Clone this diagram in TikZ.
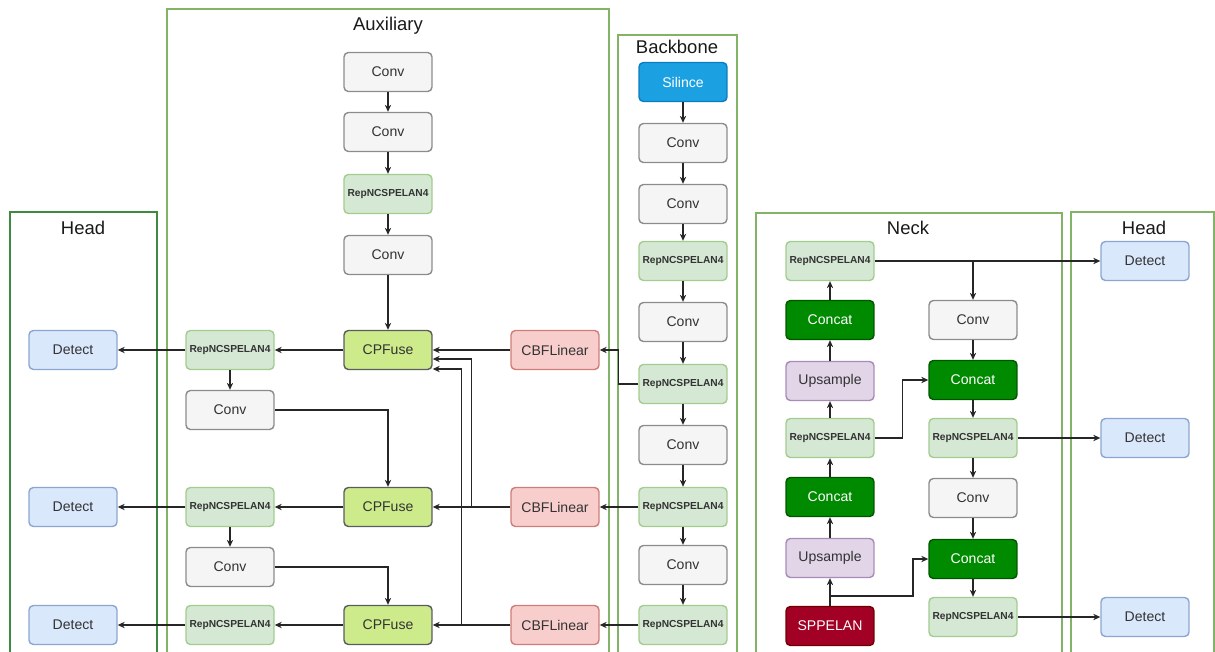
\documentclass[tikz,border=0pt]{standalone}
\usepackage{fontspec}
\setmainfont{Liberation Sans}
\usepackage{tikz}
\usetikzlibrary{arrows.meta,shapes}
\definecolor{convfill}{HTML}{F5F5F5}
\definecolor{convline}{HTML}{8C8C8C}
\definecolor{convtext}{HTML}{333333}
\definecolor{repfill}{HTML}{D5E8D4}
\definecolor{repline}{HTML}{A3CC8F}
\definecolor{cpffill}{HTML}{CDEB8B}
\definecolor{cpfline}{HTML}{5A5C5E}
\definecolor{cbffill}{HTML}{F8CECC}
\definecolor{cbfline}{HTML}{D07C78}
\definecolor{detfill}{HTML}{DAE8FC}
\definecolor{detline}{HTML}{8BA6D0}
\definecolor{silfill}{HTML}{1BA1E2}
\definecolor{silline}{HTML}{0A7CC0}
\definecolor{catfill}{HTML}{008A00}
\definecolor{catline}{HTML}{005700}
\definecolor{upfill}{HTML}{E1D5E7}
\definecolor{upline}{HTML}{A98BBA}
\definecolor{sppfill}{HTML}{A20025}
\definecolor{sppline}{HTML}{6F0000}
\definecolor{framegreen}{HTML}{82B366}
\definecolor{framedark}{HTML}{3E8A3E}
\newcommand{\blockfont}{\fontsize{8}{9}\selectfont}
\newcommand{\repfont}{\fontsize{5.8}{7}\selectfont\bfseries}
\newcommand{\titlefont}{\fontsize{10.5}{12}\selectfont}
\tikzstyle{block}=[rectangle,rounded corners=2.5pt,minimum width=1.76cm,minimum height=0.78cm,inner sep=0pt,line width=0.8pt,font=\blockfont]
\tikzstyle{conv}=[block,fill=convfill,draw=convline,text=convtext]
\tikzstyle{rep}=[block,fill=repfill,draw=repline,font=\repfont,text=black!80]
\tikzstyle{cpfuse}=[block,fill=cpffill,draw=cpfline,text=black!80]
\tikzstyle{cbf}=[block,fill=cbffill,draw=cbfline,text=black!80]
\tikzstyle{detect}=[block,fill=detfill,draw=detline,text=black!80]
\tikzstyle{silence}=[block,fill=silfill,draw=silline,text=white]
\tikzstyle{concat}=[block,fill=catfill,draw=catline,text=white]
\tikzstyle{upsample}=[block,fill=upfill,draw=upline,text=black!80]
\tikzstyle{spp}=[block,fill=sppfill,draw=sppline,text=white]
\tikzstyle{frame}=[draw=framegreen,line width=0.9pt]
\tikzstyle{title}=[font=\titlefont,text=black!90]
\tikzstyle{arrow}=[draw,black!85,line width=0.6pt,-{Stealth[length=4pt,width=3.6pt]}]

\begin{document}
\begin{tikzpicture}[x=0.02cm,y=-0.02cm]
    \useasboundingbox (0,0) rectangle (1215,652);
    % frames
    \draw[frame,draw=framedark] (10,660) |- (157,212) -- (157,660);
    \draw[frame] (167,660) |- (609,9) -- (609,660);
    \draw[frame] (618,660) |- (737,35) -- (737,660);
    \draw[frame] (756,660) |- (1062,213) -- (1062,660);
    \draw[frame] (1071,660) |- (1214,212) -- (1214,660);
    \node[title] (headl) at (83,228) {Head};
    \node[title] (auxt) at (388,26) {Auxiliary};
    \node[title] (bbt) at (677,47) {Backbone};
    \node[title] (neckt) at (908,228) {Neck};
    \node[title] (headr) at (1144,228) {Head};
    % blocks
    \foreach \pos/\name in {{(388,72)/aconv1}, {(388,132)/aconv2}, {(388,255)/aconv3}, {(230,410)/aconv4}, {(230,567)/aconv5},
        {(683,143)/bconv1}, {(683,204)/bconv2}, {(683,322)/bconv3}, {(683,445)/bconv4}, {(683,565)/bconv5},
        {(973,320)/nconv1}, {(973,498)/nconv2}}
        \node[conv] (\name) at \pos {Conv};
    \foreach \pos/\name in {{(388,194)/arep}, {(230,350)/arep1}, {(230,507)/arep2}, {(230,625)/arep3},
        {(683,261)/brep1}, {(683,384)/brep2}, {(683,507)/brep3}, {(683,625)/brep4},
        {(830,261)/nrep1}, {(830,438)/nrep2}, {(973,438)/nrep3}, {(973,617)/nrep4}}
        \node[rep] (\name) at \pos {RepNCSPELAN4};
    \foreach \pos/\name in {{(388,350)/cpf1}, {(388,507)/cpf2}, {(388,625)/cpf3}}
        \node[cpfuse] (\name) at \pos {CPFuse};
    \foreach \pos/\name in {{(555,350)/cbf1}, {(555,507)/cbf2}, {(555,625)/cbf3}}
        \node[cbf] (\name) at \pos {CBFLinear};
    \foreach \pos/\name in {{(73,350)/hdet1}, {(73,507)/hdet2}, {(73,625)/hdet3},
        {(1145,261)/ndet1}, {(1145,438)/ndet2}, {(1145,617)/ndet3}}
        \node[detect] (\name) at \pos {Detect};
    \foreach \pos/\name in {{(830,320)/ncat1}, {(830,497)/ncat2}, {(973,380)/ncat3}, {(973,559)/ncat4}}
        \node[concat] (\name) at \pos {Concat};
    \foreach \pos/\name in {{(830,381)/nup1}, {(830,558)/nup2}}
        \node[upsample] (\name) at \pos {Upsample};
    \node[silence] (bsil) at (683,82) {Silince};
    \node[spp] (nspp) at (830,626) {SPPELAN};
    % straight links
    \foreach \source/\dest in {aconv1/aconv2, aconv2/arep, arep/aconv3, aconv3/cpf1, arep1/aconv4, arep2/aconv5,
        cpf1/arep1, cpf2/arep2, cpf3/arep3, arep1/hdet1, arep2/hdet2, arep3/hdet3,
        cbf1/cpf1, cbf2/cpf2, cbf3/cpf3, brep3/cbf2, brep4/cbf3,
        bsil/bconv1, bconv1/bconv2, bconv2/brep1, brep1/bconv3, bconv3/brep2, brep2/bconv4, bconv4/brep3, brep3/bconv5, bconv5/brep4,
        nspp/nup2, nup2/ncat2, ncat2/nrep2, nrep2/nup1, nup1/ncat1, ncat1/nrep1,
        nconv1/ncat3, ncat3/nrep3, nrep3/nconv2, nconv2/ncat4, ncat4/nrep4,
        nrep1/ndet1, nrep3/ndet2, nrep4/ndet3}
        \path[arrow] (\source) -- (\dest);
    % elbow links
    \path[arrow] (aconv4) -| (cpf2);
    \path[arrow] (aconv5) -| (cpf3);
    \path[arrow] (cbf2.west) -- ++(-39,0) |- ([yshift=-0.18cm]cpf1.east);
    \path[arrow] (cbf3.west) -- ++(-49,0) |- ([yshift=-0.38cm]cpf1.east);
    \path[arrow] (brep2.west) -- ++(-20,0) |- (cbf1.east);
    \path[arrow] (nrep2.east) -- ++(28,0) |- (ncat3.west);
    \coordinate (sppsplit) at (830,596);
    \path[arrow] (sppsplit) -- ++(83,0) |- (ncat4.west);
    \path[arrow] (nconv1.north |- nrep1.east) -- (nconv1.north);
\end{tikzpicture}
\end{document}
